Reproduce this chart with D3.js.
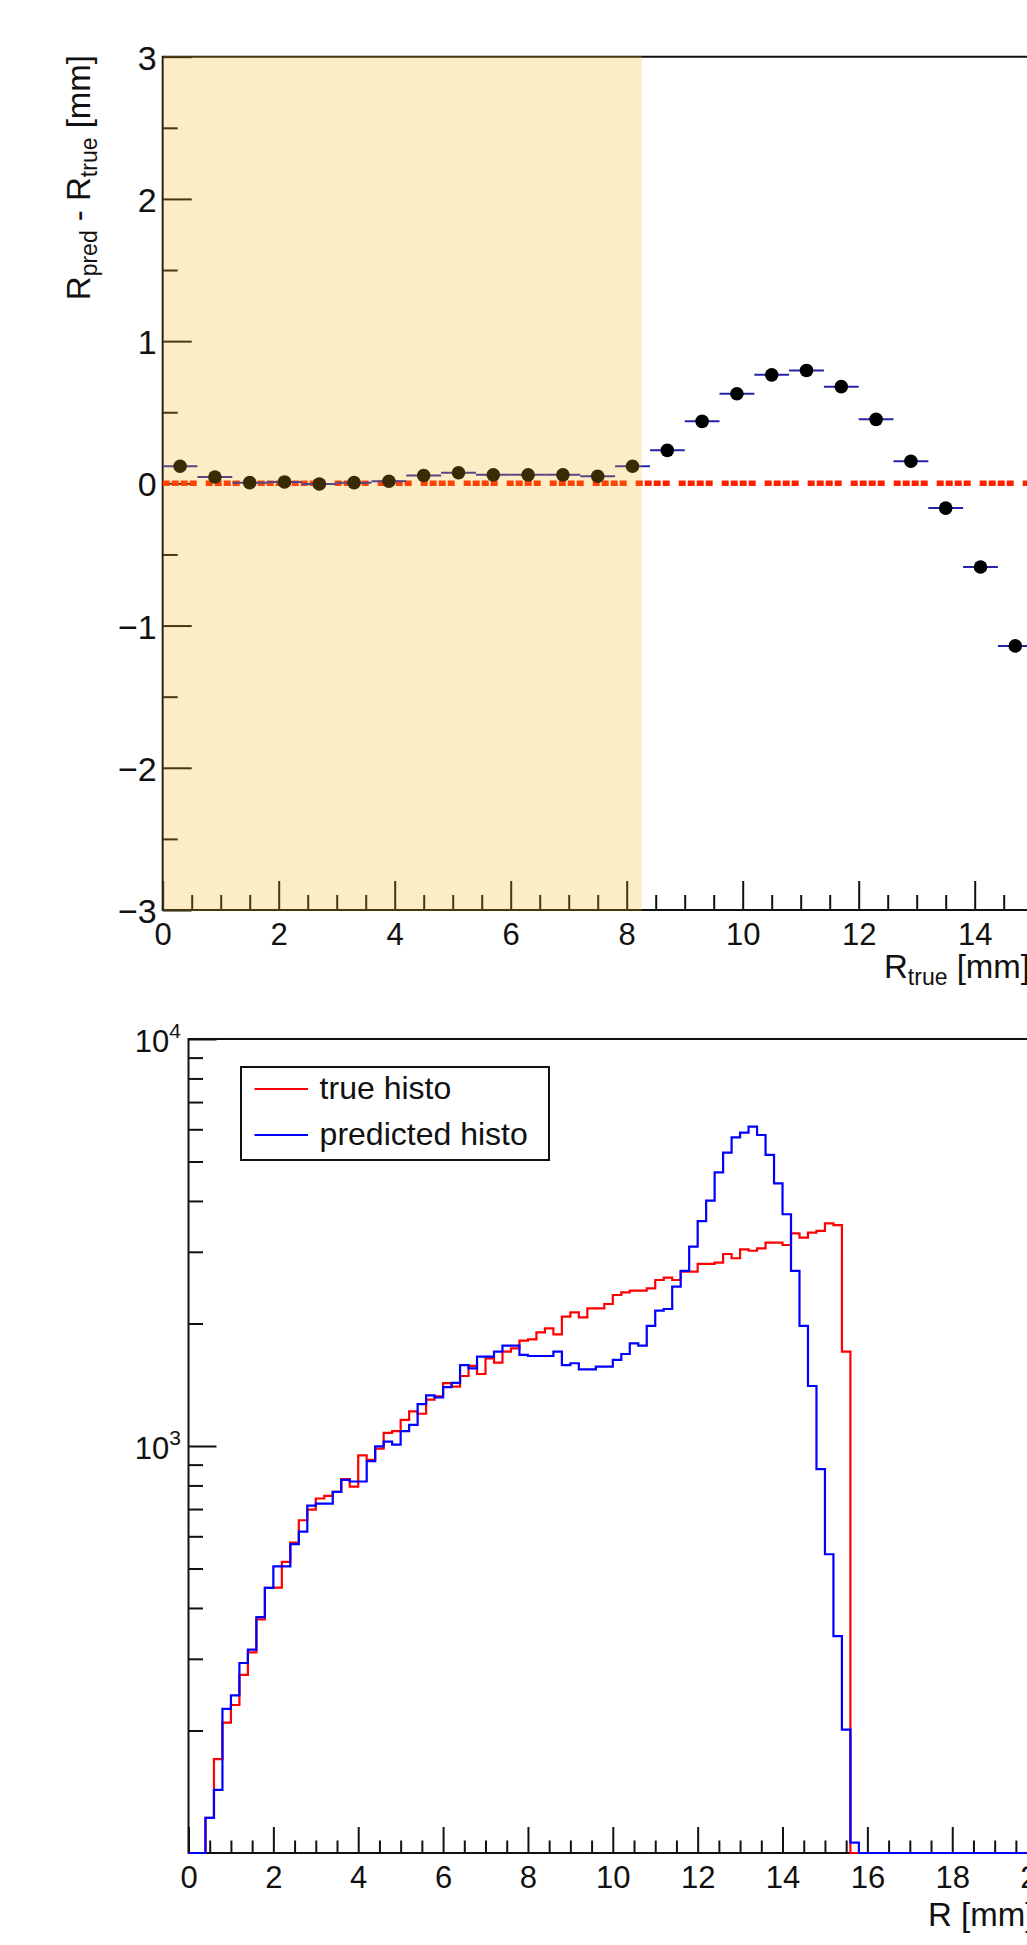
<!DOCTYPE html>
<html>
<head>
<meta charset="utf-8">
<script src="https://cdn.jsdelivr.net/npm/d3@7"></script>
<style>
  body { margin: 0; background: #fff; }
  svg text { font-family: "Liberation Sans", Arial, Helvetica, sans-serif; fill: #111; }
</style>
</head>
<body>
<svg id="chart" width="1027" height="1945"></svg>
<script>
// ---- top panel: residual per R_true bin ----
var binCenters = [0.3, 0.9, 1.5, 2.1, 2.7, 3.3, 3.9, 4.5, 5.1, 5.7, 6.3, 6.9, 7.5,
  8.1, 8.7, 9.3, 9.9, 10.5, 11.1, 11.7, 12.3, 12.9, 13.5, 14.1, 14.7];
var residuals = [0.12, 0.045, 0.005, 0.01, -0.005, 0.005, 0.015, 0.055, 0.075, 0.06, 0.06, 0.06, 0.05,
  0.12, 0.232, 0.436, 0.63, 0.763, 0.794, 0.68, 0.45, 0.155, -0.174, -0.588, -1.143];
var binHalfWidth = 0.3;
var shadeEnd = 8.26;
var topXTicks = [0, 2, 4, 6, 8, 10, 12, 14];
var topYTicks = [-3, -2, -1, 0, 1, 2, 3];

// ---- bottom panel: R histograms, 0.2 mm bins from 0 to 20 ----
var binWidth = 0.2;
var trueCounts = [0, 0, 122, 170, 209, 231, 274, 311, 375, 448,
  449, 519, 579, 657, 698, 743, 754, 771, 829, 795,
  948, 925, 985, 1077, 1088, 1159, 1216, 1200, 1300, 1325,
  1428, 1400, 1486, 1573, 1503, 1642, 1603, 1706, 1738, 1815,
  1828, 1902, 1945, 1881, 2079, 2130, 2071, 2179, 2179, 2233,
  2350, 2385, 2408, 2408, 2440, 2558, 2592, 2558, 2682, 2682,
  2801, 2801, 2822, 2963, 2893, 3042, 3018, 3060, 3160, 3160,
  3118, 3330, 3250, 3344, 3376, 3525, 3490, 1706, 0, 0,
  0, 0, 0, 0, 0, 0, 0, 0, 0, 0,
  0, 0, 0, 0, 0, 0, 0, 0, 0, 0];
var predCounts = [0, 0, 122, 143, 226, 244, 293, 316, 380, 448,
  506, 506, 574, 616, 714, 722, 722, 771, 826, 818,
  818, 918, 998, 1025, 1008, 1088, 1127, 1268, 1332, 1317,
  1395, 1430, 1581, 1552, 1658, 1658, 1706, 1764, 1764, 1674,
  1664, 1664, 1664, 1706, 1581, 1597, 1543, 1543, 1567, 1567,
  1627, 1683, 1788, 1764, 1972, 2150, 2171, 2464, 2692, 3088,
  3570, 4007, 4700, 5260, 5735, 5890, 6090, 5810, 5190, 4420,
  3710, 2692, 1972, 1404, 877, 542, 341, 201, 106, 0,
  0, 0, 0, 0, 0, 0, 0, 0, 0, 0,
  0, 0, 0, 0, 0, 0, 0, 0, 0, 0];
var botXTicks = [0, 2, 4, 6, 8, 10, 12, 14, 16, 18, 20];
var botYMajor = [1000, 10000];
var botYMinor = [200, 300, 400, 500, 600, 700, 800, 900,
  2000, 3000, 4000, 5000, 6000, 7000, 8000, 9000];

var FONT = '"Liberation Sans", Arial, Helvetica, sans-serif';
var INK = "#111";

var svg = d3.select("#chart");

// helper to style an axis group
function styleAxis(g, fontSize) {
  g.attr("font-family", FONT).attr("font-size", fontSize).attr("color", INK);
  g.select(".domain").remove();
  g.selectAll("line").attr("stroke-width", 2);
}

function minorsBetween(lo, hi, step, majors) {
  return d3.range(lo, hi + 1e-9, step).filter(function(v) {
    return !majors.some(function(m) { return Math.abs(m - v) < 1e-9; });
  });
}

// ================= top panel =================
var xTop = d3.scaleLinear().domain([0, 15]).range([162.7, 1032.7]);
var yTop = d3.scaleLinear().domain([-3, 3]).range([910, 56.7]);
var topG = svg.append("g");

// frame
topG.append("path")
  .attr("d", `M${xTop(15) + 20},${yTop(3)}H${xTop(0)}V${yTop(-3)}H${xTop(15) + 20}`)
  .attr("fill", "none").attr("stroke", INK).attr("stroke-width", 2);

// x axis
topG.append("g").attr("transform", `translate(0,${yTop(-3)})`)
  .call(d3.axisBottom(xTop).tickValues(topXTicks).tickSize(-29).tickPadding(13))
  .call(styleAxis, 31);
topG.append("g").attr("transform", `translate(0,${yTop(-3)})`)
  .call(d3.axisBottom(xTop).tickValues(minorsBetween(0, 15, 0.5, topXTicks)).tickSize(-15).tickFormat(""))
  .call(styleAxis, 31);

// y axis
var yAxTop = topG.append("g").attr("transform", `translate(${xTop(0)},0)`)
  .call(d3.axisLeft(yTop).tickValues(topYTicks).tickSize(-29).tickPadding(6).tickFormat(d3.format("d")))
  .call(styleAxis, 34);
yAxTop.selectAll("text").attr("dy", "0.37em");
topG.append("g").attr("transform", `translate(${xTop(0)},0)`)
  .call(d3.axisLeft(yTop).tickValues(minorsBetween(-3, 3, 0.5, topYTicks)).tickSize(-15).tickFormat(""))
  .call(styleAxis, 34);

// zero reference line
topG.append("line")
  .attr("x1", xTop(0)).attr("x2", xTop(15) + 20)
  .attr("y1", yTop(0)).attr("y2", yTop(0))
  .attr("stroke", "#ff2000").attr("stroke-width", 5.5)
  .attr("stroke-dasharray", "7,2,7,2,7,2,7,9");

// error bars and markers
var pts = binCenters.map(function(c, i) { return { x: c, y: residuals[i] }; });
topG.selectAll(".ebar").data(pts).enter().append("line")
  .attr("class", "ebar")
  .attr("x1", d => xTop(d.x - binHalfWidth)).attr("x2", d => xTop(d.x + binHalfWidth))
  .attr("y1", d => yTop(d.y)).attr("y2", d => yTop(d.y))
  .attr("stroke", "#2424a8").attr("stroke-width", 2);
topG.selectAll(".pt").data(pts).enter().append("circle")
  .attr("class", "pt")
  .attr("cx", d => xTop(d.x)).attr("cy", d => yTop(d.y))
  .attr("r", 6.8).attr("fill", "#000");

// shaded region drawn over everything
topG.append("rect")
  .attr("x", xTop(0)).attr("y", yTop(3) - 1)
  .attr("width", xTop(shadeEnd) - xTop(0)).attr("height", yTop(-3) - yTop(3) + 2)
  .attr("fill", "#f8b416").attr("fill-opacity", 0.24);

// titles
var yt = topG.append("text")
  .attr("transform", "translate(90,55) rotate(-90)")
  .attr("text-anchor", "end").attr("font-size", 33);
yt.append("tspan").text("R");
yt.append("tspan").attr("font-size", 23).attr("dy", 7).text("pred");
yt.append("tspan").attr("dy", -7).text(" - R");
yt.append("tspan").attr("font-size", 23).attr("dy", 7).text("true");
yt.append("tspan").attr("dy", -7).text(" [mm]");

var xt = topG.append("text")
  .attr("x", 884).attr("y", 978)
  .attr("font-size", 33);
xt.append("tspan").text("R");
xt.append("tspan").attr("font-size", 23).attr("dy", 7).text("true");
xt.append("tspan").attr("dy", -7).text(" [mm]");

// ================= bottom panel =================
var xBot = d3.scaleLinear().domain([0, 20]).range([188.5, 1037.1]);
var yBot = d3.scaleLog().domain([100, 10000]).range([1853, 1039]);
var botG = svg.append("g");

botG.append("path")
  .attr("d", `M${xBot(20)},${yBot(10000)}H${xBot(0)}V${yBot(100)}H${xBot(20)}`)
  .attr("fill", "none").attr("stroke", INK).attr("stroke-width", 2);

botG.append("g").attr("transform", `translate(0,${yBot(100)})`)
  .call(d3.axisBottom(xBot).tickValues(botXTicks).tickSize(-26).tickPadding(13))
  .call(styleAxis, 31);
botG.append("g").attr("transform", `translate(0,${yBot(100)})`)
  .call(d3.axisBottom(xBot).tickValues(minorsBetween(0, 20, 0.5, botXTicks)).tickSize(-12.5).tickFormat(""))
  .call(styleAxis, 31);

botG.append("g").attr("transform", `translate(${xBot(0)},0)`)
  .call(d3.axisLeft(yBot).tickValues(botYMajor).tickSize(-28).tickFormat(""))
  .call(styleAxis, 31);
botG.append("g").attr("transform", `translate(${xBot(0)},0)`)
  .call(d3.axisLeft(yBot).tickValues(botYMinor).tickSize(-14.5).tickFormat(""))
  .call(styleAxis, 31);

// power-of-ten labels
botYMajor.forEach(function(v) {
  var t = botG.append("text")
    .attr("x", 181).attr("y", yBot(v) + 13)
    .attr("text-anchor", "end").attr("font-size", 31);
  t.append("tspan").text("10");
  t.append("tspan").attr("font-size", 21).attr("dy", -14).text(Math.round(Math.log10(v)));
});

// step histograms
function stepPoints(counts) {
  var out = [];
  counts.forEach(function(c, i) {
    var v = Math.max(c, 100);
    out.push([i * binWidth, v], [(i + 1) * binWidth, v]);
  });
  return out;
}
var histLine = d3.line().x(d => xBot(d[0])).y(d => yBot(d[1]));

botG.append("path").attr("d", histLine(stepPoints(trueCounts)))
  .attr("fill", "none").attr("stroke", "#ff0000").attr("stroke-width", 2.2);
botG.append("path").attr("d", histLine(stepPoints(predCounts)))
  .attr("fill", "none").attr("stroke", "#0000ff").attr("stroke-width", 2.2);

// x title
botG.append("text")
  .attr("x", 928).attr("y", 1926)
  .attr("font-size", 33)
  .text("R [mm]");

// legend
var legend = botG.append("g");
legend.append("rect")
  .attr("x", 241).attr("y", 1067).attr("width", 308).attr("height", 93)
  .attr("fill", "#fff").attr("stroke", INK).attr("stroke-width", 2);
var legendItems = [
  { label: "true histo", color: "#ff0000", y: 1089 },
  { label: "predicted histo", color: "#0000ff", y: 1135 }
];
legendItems.forEach(function(d) {
  legend.append("line")
    .attr("x1", 254.5).attr("x2", 308).attr("y1", d.y).attr("y2", d.y)
    .attr("stroke", d.color).attr("stroke-width", 2);
  legend.append("text")
    .attr("x", 319.6).attr("y", d.y + 10)
    .attr("font-size", 32).text(d.label);
});
</script>
</body>
</html>
